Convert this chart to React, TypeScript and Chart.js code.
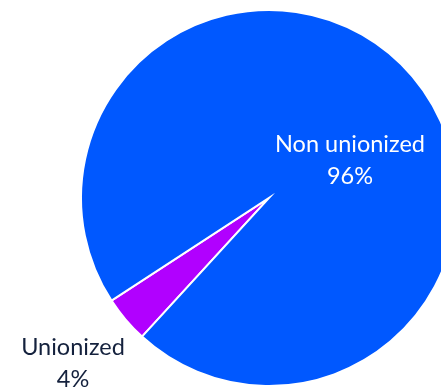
import React, { useEffect, useRef } from "react";
import { Chart, registerables } from "chart.js";

Chart.register(...registerables);

const categories = ["Unionized", "Non unionized"];
const shares = [4, 96];
const percentLabels = ["4%", "96%"];
const sliceColors = ["#B100FF", "#0058FF"];
const labelColors = ["#14213D", "#FFFFFF"];

const CANVAS_W = 538;
const CANVAS_H = 396;

const labelPlugin = {
  id: "sliceLabels",
  afterDraw(chart: any) {
    const ctx = chart.ctx as CanvasRenderingContext2D;
    const meta = chart.getDatasetMeta(0);
    const arcs = meta.data;
    // label anchor points (relative to the pie centre)
    const anchors = [
      { dx: -196, dy: 157 },
      { dx: 81, dy: -46 },
    ];
    ctx.save();
    ctx.textAlign = "center";
    ctx.textBaseline = "alphabetic";
    ctx.font = "400 23.5px Lato, 'Open Sans', sans-serif";
    arcs.forEach((arc: any, i: number) => {
      const x = arc.x + anchors[i].dx;
      const y = arc.y + anchors[i].dy;
      ctx.fillStyle = labelColors[i];
      ctx.fillText(categories[i], x, y);
      ctx.fillText(percentLabels[i], x, y + 32);
    });
    ctx.restore();
  },
};

export default function App() {
  const ref = useRef<HTMLCanvasElement | null>(null);
  useEffect(() => {
    if (!ref.current) return;
    const chart = new Chart(ref.current, {
      type: "pie",
      data: {
        labels: categories,
        datasets: [
          {
            data: shares,
            backgroundColor: sliceColors,
            borderColor: "#FFFFFF",
            borderWidth: 2,
            borderJoinStyle: "miter",
          } as any,
        ],
      },
      options: {
        responsive: false,
        animation: false,
        rotation: 222.5,
        radius: 188,
        layout: { padding: 0 },
        plugins: {
          legend: { display: false },
          tooltip: { enabled: false },
        },
      },
      plugins: [labelPlugin],
    });
    return () => chart.destroy();
  }, []);
  return (
    <div
      style={{
        position: "fixed",
        left: 0,
        top: 0,
        width: 441,
        height: 390,
        overflow: "hidden",
        background: "#FFFFFF",
      }}
    >
      <canvas
        ref={ref}
        width={CANVAS_W}
        height={CANVAS_H}
        style={{ position: "absolute", left: 0, top: 0, width: CANVAS_W, height: CANVAS_H }}
      />
    </div>
  );
}
